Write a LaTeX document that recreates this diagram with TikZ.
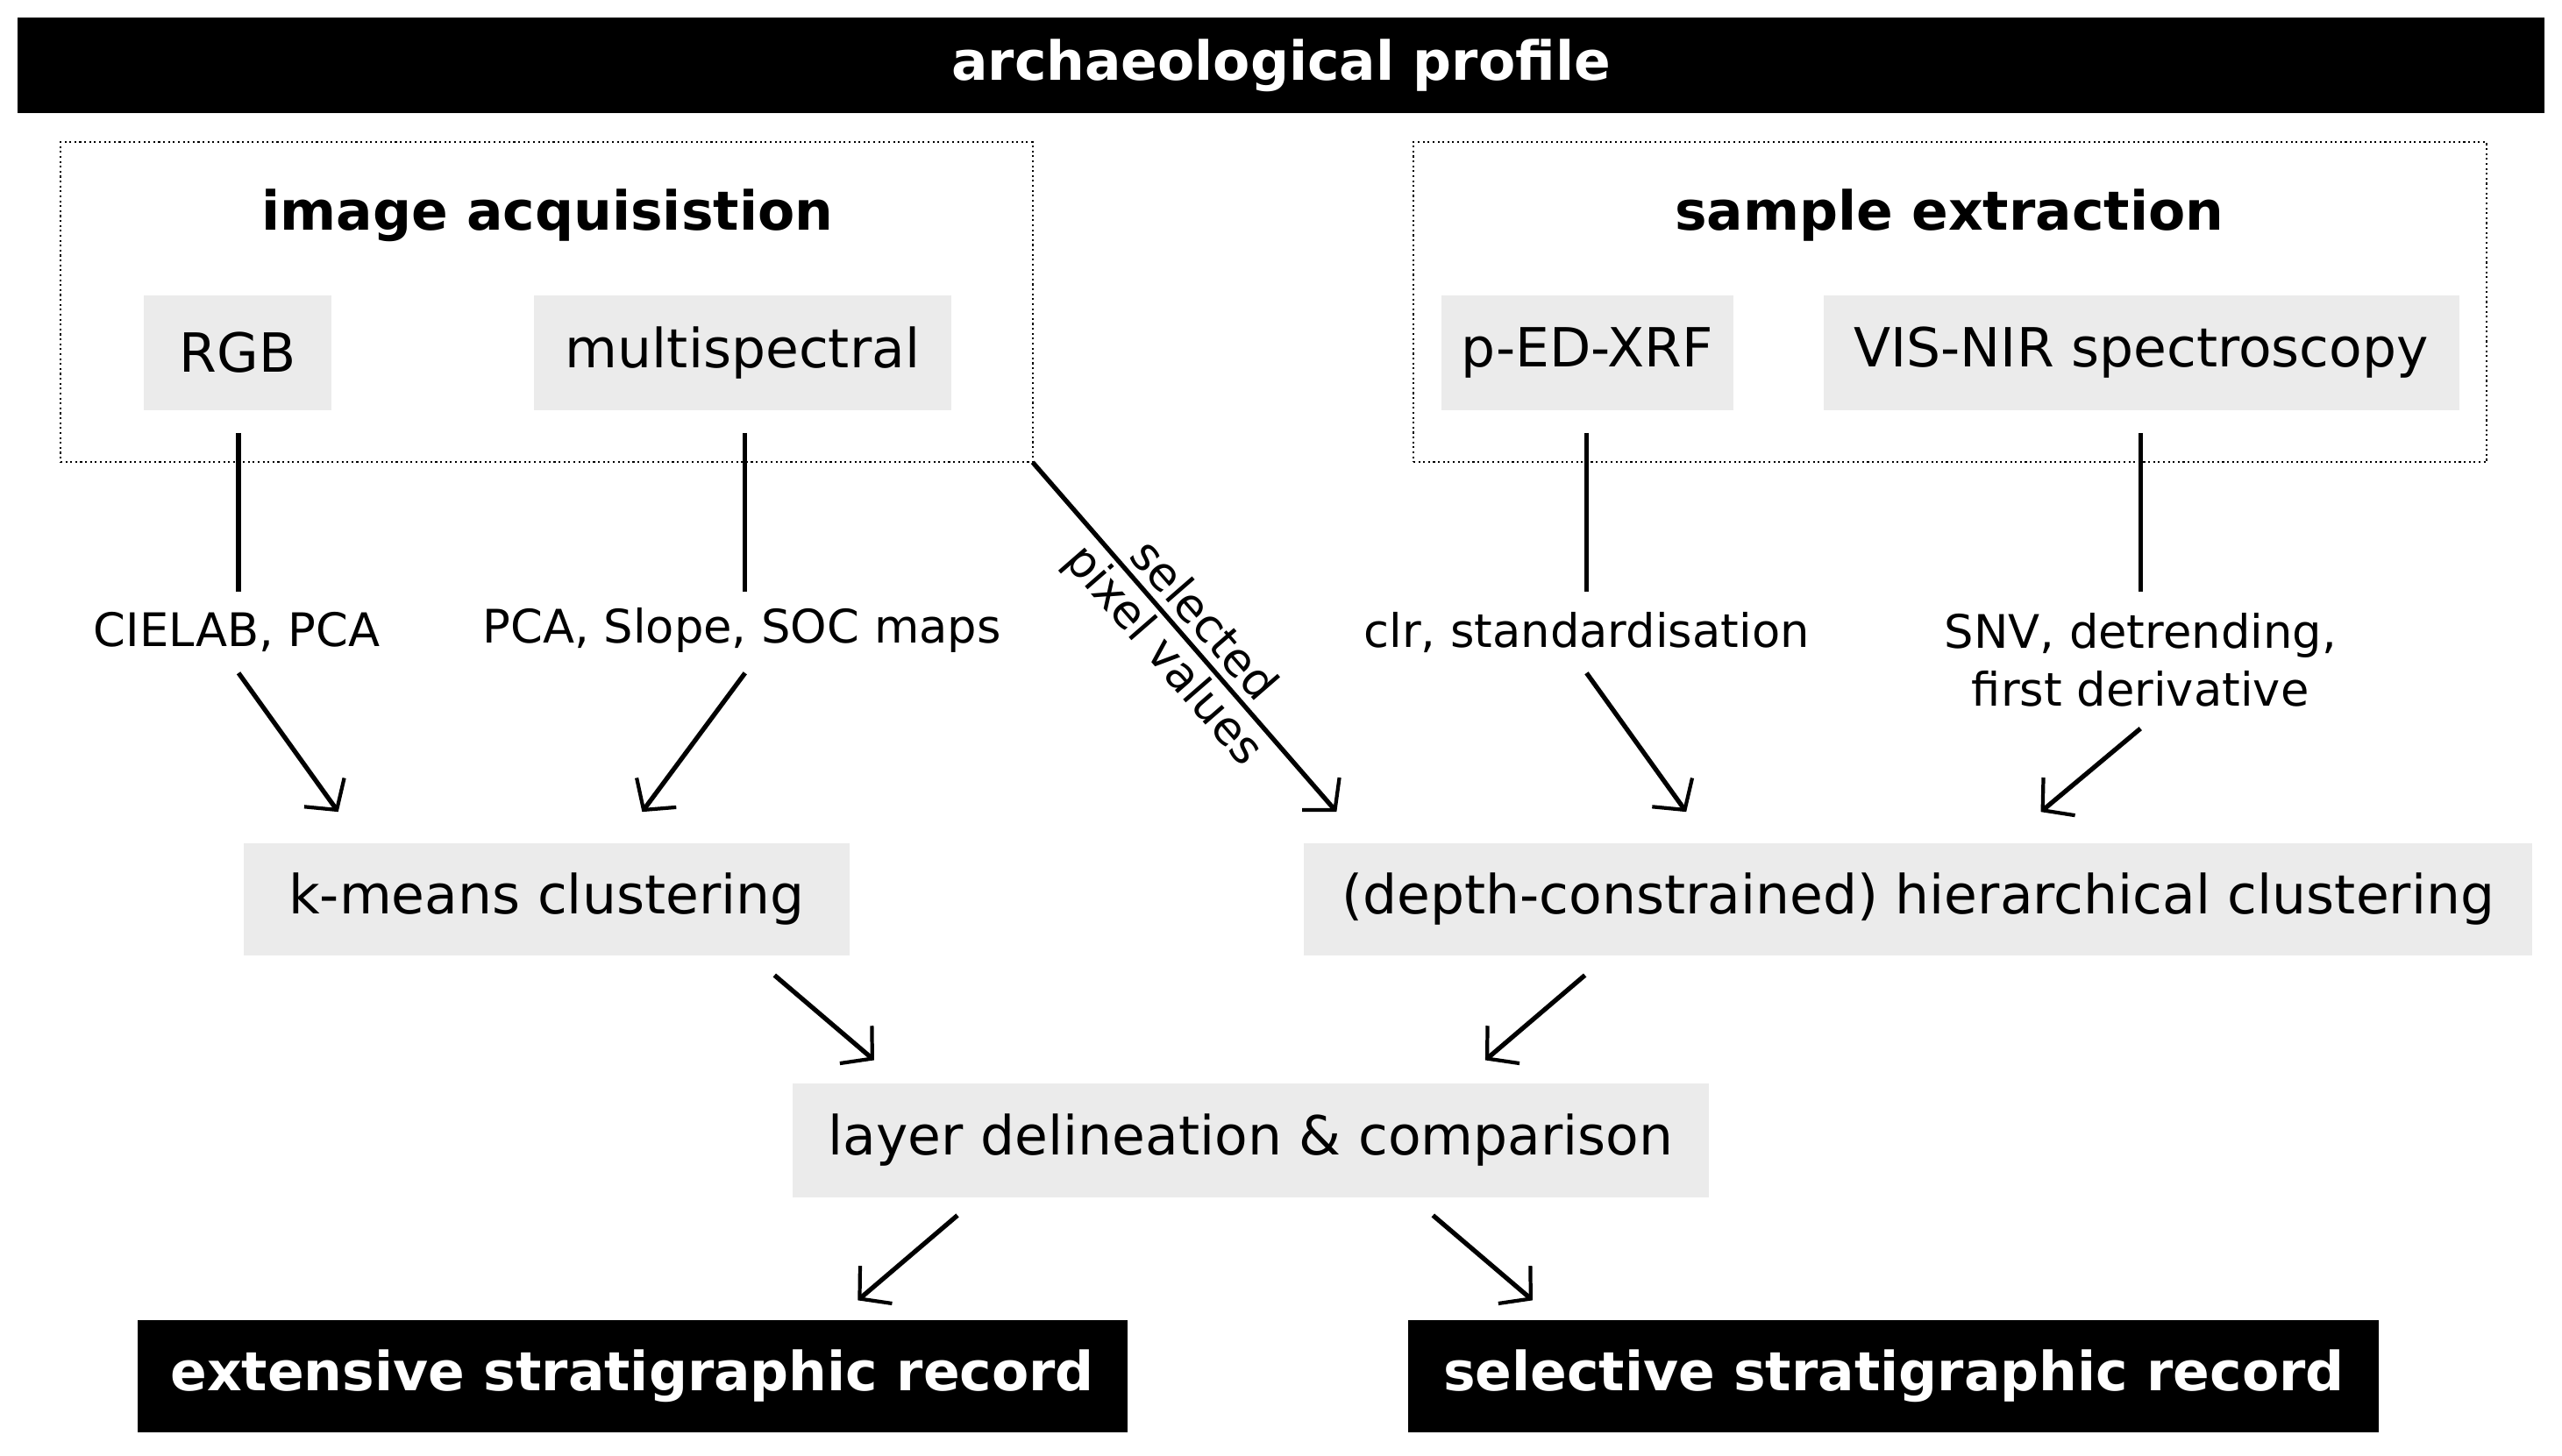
\documentclass[tikz,border=0pt]{standalone}
\usepackage{fontspec}
\setmainfont{DejaVu Sans}
\usetikzlibrary{arrows.meta}
\def\u{0.018635cm}
\begin{document}
\begin{tikzpicture}[x=\u,y=-\u,
  gbox/.style={fill=black!8,inner sep=0pt,font=\fontsize{17.5}{21}\selectfont},
  bbox/.style={fill=black,text=white,inner sep=0pt,font=\fontsize{17.5}{21}\selectfont\bfseries},
  dbox/.style={draw,densely dotted,line width=0.6pt,inner sep=0pt},
  lab/.style={font=\fontsize{15}{19}\selectfont,align=center},
  ttl/.style={font=\fontsize{17.5}{21}\selectfont\bfseries},
  ln/.style={line width=1.5pt},
  arr/.style={line width=1.5pt,-{Straight Barb[length=7pt,width=16pt,line width=1.2pt]}}]
\useasboundingbox (0,0) rectangle (1568,890.8);
\node[bbox,minimum width=1546*\u,minimum height=58*\u] (top) at (784,40) {archaeological profile};
\node[dbox,minimum width=595*\u,minimum height=196*\u] (ia) at (334.5,185) {};
\node[ttl] (iat) at (335,132) {image acquisistion};
\node[dbox,minimum width=657*\u,minimum height=196*\u] (se) at (1193.5,185) {};
\node[ttl] (set) at (1193,132) {sample extraction};
\node[gbox,minimum width=115*\u,minimum height=70*\u] (rgb) at (145.5,216) {RGB};
\node[gbox,minimum width=255*\u,minimum height=70*\u] (ms) at (454.5,216) {multispectral};
\node[gbox,minimum width=179*\u,minimum height=70*\u] (xrf) at (971.5,216) {p-ED-XRF};
\node[gbox,minimum width=389*\u,minimum height=70*\u] (vis) at (1310.5,216) {VIS-NIR spectroscopy};
\node[lab] (l1) at (145,387) {CIELAB, PCA};
\node[lab] (l2) at (454,386) {PCA, Slope, SOC maps};
\node[lab] (l3) at (971,387) {clr, standardisation};
\node[lab] (l4) at (1310,404) {SNV, detrending,\\first derivative};
\node[gbox,minimum width=371*\u,minimum height=69*\u] (km) at (334.5,550.5) {k-means clustering};
\node[gbox,minimum width=752*\u,minimum height=69*\u] (hc) at (1174,550.5) {(depth-constrained) hierarchical clustering};
\node[gbox,minimum width=561*\u,minimum height=70*\u] (ld) at (765.5,698) {layer delineation \& comparison};
\node[bbox,minimum width=606*\u,minimum height=69*\u] (ex) at (387,842.5) {extensive stratigraphic record};
\node[bbox,minimum width=594*\u,minimum height=69*\u] (sel) at (1159,842.5) {selective stratigraphic record};
\coordinate (a1) at (146,265); \coordinate (b1) at (146,362);
\coordinate (a2) at (456,265); \coordinate (b2) at (456,362);
\coordinate (a3) at (971,265); \coordinate (b3) at (971,362);
\coordinate (a4) at (1310,265); \coordinate (b4) at (1310,362);
\draw[ln] (a1)--(b1); \draw[ln] (a2)--(b2); \draw[ln] (a3)--(b3); \draw[ln] (a4)--(b4);
\coordinate (c1) at (146,412); \coordinate (d1) at (207,497);
\coordinate (c2) at (456,412); \coordinate (d2) at (393,497);
\coordinate (c3) at (971,412); \coordinate (d3) at (1032,497);
\coordinate (c4) at (1310,446); \coordinate (d4) at (1249,497);
\draw[arr] (c1)--(d1); \draw[arr] (c2)--(d2); \draw[arr] (c3)--(d3); \draw[arr] (c4)--(d4);
\coordinate (s0) at (632,283); \coordinate (s1) at (818,497);
\draw[arr] (s0)-- node[sloped,midway,yshift=-1pt,inner sep=1pt,align=center,font=\fontsize{15}{17}\selectfont] (sl) {selected\\pixel values} (s1);
\coordinate (e1) at (474,597); \coordinate (f1) at (535,649);
\coordinate (e2) at (970,597); \coordinate (f2) at (909,649);
\coordinate (g1) at (586,744); \coordinate (h1) at (525,796);
\coordinate (g2) at (877,744); \coordinate (h2) at (938,796);
\draw[arr] (e1)--(f1); \draw[arr] (e2)--(f2); \draw[arr] (g1)--(h1); \draw[arr] (g2)--(h2);
\end{tikzpicture}
\end{document}
